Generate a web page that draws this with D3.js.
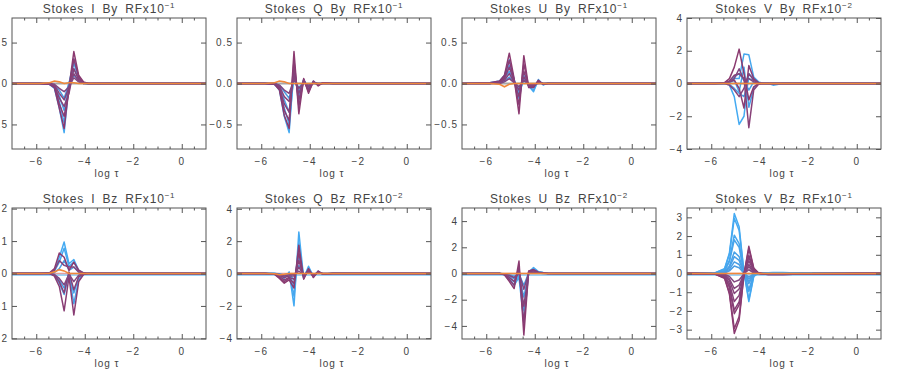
<!DOCTYPE html>
<html>
<head>
<meta charset="utf-8">
<script src="https://cdnjs.cloudflare.com/ajax/libs/d3/7.8.5/d3.min.js"></script>
<style>
  body { margin: 0; background: #fff; }
  svg { display: block; font-family: "Liberation Sans", Arial, sans-serif; }
  .title { font-size: 12px; fill: #444; letter-spacing: 0.8px; word-spacing: 3px; }
  .axisText { font-size: 10px; fill: #444; letter-spacing: 1px; }
  .tick text { font-size: 10px; fill: #444; letter-spacing: 1px; }
  .tick line { stroke: #555; }
</style>
</head>
<body>
<div class="chart"></div>
<script>
// Response functions vs log tau, 8 panels

// shared log tau grid (vertex positions of every curve)
var logTau = [-7, -5.85, -5.45, -5.25, -5.05, -4.85, -4.65, -4.45, -4.25, -4.05, -3.85, -3.65, -3.45, -3.05, -2.2, 1];

// panel titles
var titles = ["Stokes I By RFx10", "Stokes Q By RFx10", "Stokes U By RFx10", "Stokes V By RFx10",
              "Stokes I Bz RFx10", "Stokes Q Bz RFx10", "Stokes U Bz RFx10", "Stokes V Bz RFx10"];
var exponents = ["-1", "-1", "-1", "-2", "-1", "-2", "-2", "-1"];

// y ranges and ticks
var yLimits = [0.8, 0.8, 0.8, 4, 2.02, 4.05, 5, 3.5];
var yTicks = [
  [-0.5, 0, 0.5], [-0.5, 0, 0.5], [-0.5, 0, 0.5], [-4, -2, 0, 2, 4],
  [-2, -1, 0, 1, 2], [-4, -2, 0, 2, 4], [-4, -2, 0, 2, 4], [-3, -2, -1, 0, 1, 2, 3]
];
var xTicks = [-6, -4, -2, 0];
var xMinorTicks = [-6.5, -5.5, -5, -4.5, -3.5, -3, -2.5, -1.5, -1, -0.5, 0.5];

// Stokes I By
var iByBlue = [
  [0, 0, -0.01, -0.06, -0.3, -0.6, -0.02, 0.3, 0.08, 0.01, -0.01, -0.01, -0.01, 0, 0, 0],
  [0, 0, -0.01, -0.05, -0.22, -0.48, 0.0, 0.25, 0.06, 0.01, -0.01, -0.01, 0, 0, 0, 0],
  [0, 0, 0, -0.04, -0.15, -0.33, 0.01, 0.18, 0.05, 0.01, -0.01, 0, 0, 0, 0, 0],
  [0, 0, 0, -0.03, -0.08, -0.18, 0.0, 0.1, 0.03, 0, 0, 0, 0, 0, 0, 0]
];
var iByPurple = [
  [0, 0, -0.01, -0.05, -0.3, -0.55, -0.05, 0.39, 0.1, 0.02, 0, 0, 0, 0, 0, 0],
  [0, 0, -0.01, -0.04, -0.25, -0.4, -0.1, 0.3, 0.08, 0.01, 0, 0, 0, 0, 0, 0],
  [0, 0, 0, -0.03, -0.18, -0.28, -0.12, 0.18, 0.05, 0.01, 0, 0, 0, 0, 0, 0],
  [0, 0, 0, -0.02, -0.12, -0.2, -0.05, 0.12, 0.03, 0, 0, 0, 0, 0, 0, 0],
  [0, 0, 0, -0.01, -0.06, -0.1, -0.04, 0.07, 0.02, 0, 0, 0, 0, 0, 0, 0]
];
var iByOrange = [0, 0, 0.01, 0.03, 0.02, 0, 0.01, 0.01, 0, 0, 0, 0, 0, 0, 0, 0];

// Stokes Q By
var qByBlue = [
  [0, 0, -0.01, -0.08, -0.4, -0.6, 0.2, -0.2, 0.05, -0.08, 0.03, -0.02, 0.01, 0, 0, 0],
  [0, 0, -0.01, -0.06, -0.3, -0.5, 0.12, -0.15, 0.04, -0.06, 0.02, -0.01, 0.01, 0, 0, 0],
  [0, 0, 0, -0.04, -0.2, -0.35, 0.08, -0.1, 0.03, -0.04, 0.01, 0, 0, 0, 0, 0],
  [0, 0, 0, -0.02, -0.1, -0.18, 0.04, -0.05, 0.02, -0.02, 0, 0, 0, 0, 0, 0]
];
var qByPurple = [
  [0, 0, -0.01, -0.08, -0.39, -0.55, 0.39, -0.37, 0.06, -0.12, 0.03, -0.03, 0.01, 0, 0, 0],
  [0, 0, -0.01, -0.06, -0.33, -0.45, 0.28, -0.28, 0.05, -0.1, 0.02, -0.02, 0.01, 0, 0, 0],
  [0, 0, 0, -0.05, -0.25, -0.35, 0.18, -0.2, 0.04, -0.07, 0.02, -0.01, 0, 0, 0, 0],
  [0, 0, 0, -0.03, -0.16, -0.22, 0.1, -0.12, 0.02, -0.04, 0.01, 0, 0, 0, 0, 0],
  [0, 0, 0, -0.02, -0.08, -0.12, 0.05, -0.06, 0.01, -0.02, 0, 0, 0, 0, 0, 0]
];
var qByOrange = [0, 0, 0.01, 0.03, 0.02, 0, 0, 0, 0, 0, 0, 0, 0, 0, 0, 0];

// Stokes U By
var uByBlue = [
  [0, 0.01, 0.03, 0.1, 0.29, 0.05, -0.18, 0.1, -0.03, -0.1, 0.05, -0.02, 0.01, 0, 0, 0],
  [0, 0.01, 0.02, 0.08, 0.22, 0.04, -0.14, 0.07, -0.03, -0.08, 0.04, -0.01, 0.01, 0, 0, 0],
  [0, 0, 0.02, 0.06, 0.15, 0.03, -0.1, 0.05, -0.02, -0.05, 0.03, -0.01, 0, 0, 0, 0],
  [0, 0, 0.01, 0.03, 0.08, 0.02, -0.05, 0.03, -0.01, -0.03, 0.01, 0, 0, 0, 0, 0]
];
var uByPurple = [
  [0, 0.01, 0.03, 0.1, 0.37, 0.06, -0.37, 0.34, -0.05, -0.05, 0.04, -0.01, 0, 0, 0, 0],
  [0, 0, 0.02, 0.08, 0.28, 0.04, -0.26, 0.24, -0.04, -0.04, 0.03, -0.01, 0, 0, 0, 0],
  [0, 0, 0.02, 0.06, 0.2, 0.03, -0.16, 0.15, -0.03, -0.03, 0.02, 0, 0, 0, 0, 0],
  [0, 0, 0.01, 0.04, 0.12, 0.02, -0.08, 0.08, -0.02, -0.02, 0.01, 0, 0, 0, 0, 0],
  [0, 0, 0, 0.02, 0.06, 0.01, -0.04, 0.04, -0.01, -0.01, 0, 0, 0, 0, 0, 0]
];
var uByOrange = [0, 0, -0.01, -0.04, -0.01, 0, 0, 0, 0, 0, 0, 0, 0, 0, 0, 0];

// Stokes V By
var vByBlue = [
  [0, 0, 0, -0.1, -0.8, -2.5, -2.0, 0.6, 0.3, 0.05, 0, 0, -0.1, 0, 0, 0],
  [0, 0, 0, 0.1, 0.3, 0.3, 1.8, 1.75, 0.4, 0.1, 0, 0, -0.05, 0, 0, 0],
  [0, 0, 0, 0.05, 0.2, -0.5, 1.0, -1.45, -0.3, 0, 0, 0, 0, 0, 0, 0],
  [0, 0, 0, 0.1, 0.4, 0.6, 0.2, -0.4, 0.1, 0, 0, 0, 0, 0, 0, 0],
  [0, 0, 0, -0.05, -0.3, -0.6, -0.8, 0.3, 0.2, 0, 0, 0, 0, 0, 0, 0]
];
var vByPurple = [
  [0, 0, 0.05, 0.3, 1.0, 2.1, 0.6, -1.0, -0.2, 0, 0, 0, 0, 0, 0, 0],
  [0, 0, 0.02, 0.1, 0.2, -0.3, -1.5, 1.1, 0.3, 0.05, 0, 0, 0, 0, 0, 0],
  [0, 0, 0.02, 0.15, 0.5, 0.6, 0.3, -2.7, -0.4, -0.05, 0, 0, 0, 0, 0, 0],
  [0, 0, 0, -0.1, -0.4, -0.8, -0.3, 0.6, 0.2, 0, 0, 0, 0, 0, 0, 0],
  [0, 0, 0, 0.1, 0.3, 0.9, 0.2, 0.3, 0.1, 0, 0, 0, 0, 0, 0, 0]
];
var vByOrange = [0, 0, 0, 0, 0, 0, 0, 0, 0, 0, 0, 0, 0, 0, 0, 0];

// Stokes I Bz
var iBzBlue = [
  [0, 0, 0.02, 0.1, 0.5, 0.97, 0.3, 0.43, 0.1, 0.02, 0, 0.02, 0, 0, 0, 0],
  [0, 0, 0.01, 0.07, 0.35, 0.78, 0.22, 0.35, 0.07, 0.01, 0, 0.01, 0, 0, 0, 0],
  [0, 0, 0, -0.05, -0.3, -0.65, 0.0, -0.93, -0.2, -0.02, 0, 0, 0, 0, 0, 0],
  [0, 0, 0, -0.03, -0.2, -0.45, -0.05, -0.6, -0.12, -0.01, 0, 0, 0, 0, 0, 0],
  [0, 0, 0, 0.03, 0.15, 0.4, 0.1, 0.2, 0.04, 0, 0, 0, 0, 0, 0, 0]
];
var iBzPurple = [
  [0, 0, 0.02, 0.15, 0.63, 0.5, 0.1, 0.35, 0.1, 0.02, 0, 0, 0, 0, 0, 0],
  [0, 0, 0, -0.08, -0.4, -1.15, -0.1, -1.28, -0.25, -0.03, 0, 0, 0, 0, 0, 0],
  [0, 0, 0, -0.05, -0.25, -0.6, 0.05, -0.5, -0.1, -0.01, 0, 0, 0, 0, 0, 0],
  [0, 0, 0.01, 0.1, 0.4, 0.25, 0.2, 0.2, 0.05, 0, 0, 0, 0, 0, 0, 0],
  [0, 0, 0, -0.03, -0.15, -0.35, -0.02, -0.25, -0.05, 0, 0, 0, 0, 0, 0, 0]
];
var iBzOrange = [0, 0, 0.01, 0.05, 0.12, 0.08, 0, 0, 0, 0, 0, 0, 0, 0, 0, 0];

// Stokes Q Bz
var qBzBlue = [
  [0, 0, 0, -0.05, -0.3, 0.1, -2.0, 2.56, -0.3, 0.45, -0.2, 0.15, -0.05, 0.02, 0, 0],
  [0, 0, 0, -0.04, -0.25, 0.05, -1.4, 1.9, -0.25, 0.35, -0.15, 0.1, -0.04, 0.01, 0, 0],
  [0, 0, 0, -0.03, -0.2, 0.02, -0.8, 1.1, -0.15, 0.25, -0.1, 0.08, -0.03, 0, 0, 0],
  [0, 0, 0, -0.02, -0.1, 0, -0.4, 0.5, -0.08, 0.12, -0.05, 0.04, 0, 0, 0, 0]
];
var qBzPurple = [
  [0, 0, -0.05, -0.3, -0.6, -0.4, -0.9, 1.75, -0.35, 0.3, -0.25, 0.15, -0.05, 0, 0, 0],
  [0, 0, -0.04, -0.25, -0.5, -0.3, -0.6, 1.3, -0.3, 0.25, -0.2, 0.12, -0.04, 0, 0, 0],
  [0, 0, -0.03, -0.18, -0.4, -0.25, -0.35, 0.8, -0.2, 0.18, -0.15, 0.08, -0.03, 0, 0, 0],
  [0, 0, -0.02, -0.12, -0.25, -0.15, -0.15, 0.4, -0.1, 0.1, -0.08, 0.05, 0, 0, 0, 0],
  [0, 0, -0.01, -0.06, -0.15, -0.08, -0.05, 0.15, -0.05, 0.05, -0.03, 0.02, 0, 0, 0, 0]
];
var qBzOrange = [0, 0, -0.02, -0.08, -0.05, 0, 0, 0, 0, 0, 0, 0, 0, 0, 0, 0];

// Stokes U Bz
var uBzBlue = [
  [0, 0, 0, -0.1, -0.5, -0.9, -0.3, -3.7, 0.1, 0.45, 0.15, 0.08, 0.02, 0, 0, 0],
  [0, 0, 0, -0.07, -0.35, -0.65, -0.2, -2.8, 0.08, 0.35, 0.1, 0.05, 0.01, 0, 0, 0],
  [0, 0, 0, -0.04, -0.2, -0.4, -0.1, -1.8, 0.05, 0.25, 0.06, 0.03, 0, 0, 0, 0],
  [0, 0, 0, -0.02, -0.1, -0.2, -0.05, -0.9, 0.03, 0.12, 0.03, 0.01, 0, 0, 0, 0]
];
var uBzPurple = [
  [0, 0, 0, -0.1, -0.6, -1.15, 0.95, -4.7, 0.2, 0.3, 0.1, 0.05, 0, 0, 0, 0],
  [0, 0, 0, -0.08, -0.45, -0.9, 0.5, -3.8, 0.15, 0.25, 0.08, 0.04, 0, 0, 0, 0],
  [0, 0, 0, -0.05, -0.3, -0.6, 0.2, -2.5, 0.1, 0.2, 0.05, 0.02, 0, 0, 0, 0],
  [0, 0, 0, -0.03, -0.15, -0.3, 0.05, -1.2, 0.05, 0.1, 0.03, 0, 0, 0, 0, 0]
];
var uBzOrange = [0, 0, 0, 0, 0, 0, 0, 0, 0, 0, 0, 0, 0, 0, 0, 0];

// Stokes V Bz
var vBzBlue = [
  [0, 0.03, 0.26, 1.1, 3.2, 2.5, 0.06, -1.5, -0.16, 0.03, 0.04, 0.04, 0.05, 0.05, 0.02, 0],
  [0, 0.03, 0.24, 1.03, 2.95, 2.3, 0.06, -1.38, -0.15, 0.03, 0.03, 0.04, 0.04, 0.04, 0.02, 0],
  [0, 0.02, 0.16, 0.72, 2.05, 1.6, 0.04, -0.96, -0.1, 0.02, 0.02, 0.03, 0.03, 0.03, 0.01, 0],
  [0, 0.02, 0.14, 0.63, 1.8, 1.4, 0.04, -0.85, -0.09, 0.02, 0.02, 0.02, 0.03, 0.03, 0.01, 0],
  [0, 0.01, 0.09, 0.4, 1.15, 0.9, 0.02, -0.54, -0.06, 0.01, 0.01, 0.02, 0.02, 0.02, 0.01, 0],
  [0, 0.01, 0.07, 0.32, 0.9, 0.7, 0.02, -0.42, -0.05, 0.01, 0.01, 0.01, 0.01, 0.01, 0, 0],
  [0, 0.01, 0.05, 0.22, 0.62, 0.48, 0.01, -0.29, -0.03, 0, 0.01, 0.01, 0.01, 0.01, 0, 0],
  [0, 0, 0.03, 0.14, 0.4, 0.31, 0.01, -0.19, -0.02, 0, 0, 0.01, 0.01, 0.01, 0, 0]
];
var vBzPurple = [
  [0, -0.03, -0.26, -1.1, -3.2, -2.5, -0.05, 1.45, 0.3, 0.02, -0.03, -0.05, -0.06, -0.06, -0.03, 0],
  [0, -0.03, -0.24, -1.03, -2.95, -2.3, -0.05, 1.33, 0.27, 0.02, -0.03, -0.05, -0.05, -0.05, -0.03, 0],
  [0, -0.02, -0.17, -0.75, -2.15, -1.68, -0.04, 0.97, 0.2, 0.01, -0.02, -0.03, -0.04, -0.04, -0.02, 0],
  [0, -0.02, -0.16, -0.68, -1.95, -1.52, -0.03, 0.88, 0.18, 0.01, -0.02, -0.03, -0.04, -0.04, -0.02, 0],
  [0, -0.02, -0.12, -0.53, -1.5, -1.17, -0.03, 0.68, 0.14, 0.01, -0.01, -0.02, -0.03, -0.03, -0.01, 0],
  [0, -0.01, -0.09, -0.37, -1.07, -0.83, -0.02, 0.48, 0.1, 0.01, -0.01, -0.02, -0.02, -0.02, -0.01, 0],
  [0, -0.01, -0.06, -0.28, -0.8, -0.62, -0.02, 0.36, 0.07, 0, -0.01, -0.01, -0.01, -0.01, -0.01, 0],
  [0, 0, -0.04, -0.16, -0.45, -0.35, -0.01, 0.2, 0.04, 0, 0, -0.01, -0.01, -0.01, 0, 0]
];
var vBzOrange = [0, 0, 0, 0, 0, 0, 0, 0, 0, 0, 0, 0, 0, 0, 0, 0];

var blueSets = [iByBlue, qByBlue, uByBlue, vByBlue, iBzBlue, qBzBlue, uBzBlue, vBzBlue];
var purpleSets = [iByPurple, qByPurple, uByPurple, vByPurple, iBzPurple, qBzPurple, uBzPurple, vBzPurple];
var orangeSets = [iByOrange, qByOrange, uByOrange, vByOrange, iBzOrange, qBzOrange, uBzOrange, vBzOrange];

// layout
var svgWidth = 899, svgHeight = 378;
var panelWidth = 194, panelHeight = 131;
var panelLeft = [12, 237, 462, 687];
var panelTop = [18, 208];

var svg = d3.select(".chart")
  .append("svg")
  .attr("width", svgWidth)
  .attr("height", svgHeight);

var blueToPurple = d3.interpolateRgb("#44aaf2", "#8b3a70");
var fmtDec = d3.format(".1f");
var fmtInt = d3.format("d");
var x = d3.scaleLinear().domain([-7, 1]).range([0, panelWidth]);

titles.forEach(function(title, p) {
  var col = p % 4, row = Math.floor(p / 4);
  var g = svg.append("g")
    .attr("transform", `translate(${panelLeft[col]}, ${panelTop[row]})`);

  var y = d3.scaleLinear().domain([-yLimits[p], yLimits[p]]).range([panelHeight, 0]);

  g.append("clipPath").attr("id", "clip" + p)
    .append("rect").attr("width", panelWidth).attr("height", panelHeight);

  var plot = g.append("g").attr("clip-path", `url(#clip${p})`);

  var line = d3.line()
    .x((d, i) => x(logTau[i]))
    .y(d => y(d));

  // zero line(s)
  var flat = logTau.map(() => 0);
  if (row === 0) {
    plot.append("path").attr("d", line(flat))
      .attr("fill", "none").attr("stroke", "#a8a8a8").attr("stroke-width", 2);
  } else {
    plot.append("path").attr("d", line(flat))
      .attr("transform", "translate(0, 1.6)")
      .attr("fill", "none").attr("stroke", "#7cc6f4").attr("stroke-width", 1.5);
    plot.append("path").attr("d", line(flat))
      .attr("fill", "none").attr("stroke", "#e2a0a0").attr("stroke-width", 1.5);
  }

  // blue family
  var blues = blueSets[p];
  plot.selectAll(".blue")
    .data(blues)
    .enter()
    .append("path")
    .attr("class", "blue")
    .attr("d", d => line(d))
    .attr("fill", "none")
    .attr("stroke", (d, i) => blueToPurple(0.12 * i / Math.max(1, blues.length - 1)))
    .attr("stroke-width", 1.5)
    .attr("stroke-linejoin", "round");

  // purple family
  var purples = purpleSets[p];
  plot.selectAll(".purple")
    .data(purples)
    .enter()
    .append("path")
    .attr("class", "purple")
    .attr("d", d => line(d))
    .attr("fill", "none")
    .attr("stroke", (d, i) => blueToPurple(1 - 0.12 * i / Math.max(1, purples.length - 1)))
    .attr("stroke-width", 1.5)
    .attr("stroke-linejoin", "round");

  // orange curve on top
  plot.append("path")
    .attr("d", line(orangeSets[p]))
    .attr("fill", "none")
    .attr("stroke", "#f0883a")
    .attr("stroke-width", 1.6);

  // axes, ticks pointing inward
  var fmt = yLimits[p] < 1 ? fmtDec : fmtInt;
  g.append("g").attr("transform", `translate(0, ${panelHeight})`)
    .call(d3.axisBottom(x).tickValues(xTicks).tickSize(-5).tickFormat(""));
  g.append("g").attr("transform", `translate(0, ${panelHeight})`)
    .call(d3.axisBottom(x).tickValues(xMinorTicks).tickSize(-2.5).tickFormat(""));
  g.append("g")
    .call(d3.axisTop(x).tickValues(xTicks).tickSize(-5).tickFormat(""));
  g.append("g")
    .call(d3.axisTop(x).tickValues(xMinorTicks).tickSize(-2.5).tickFormat(""));
  g.append("g")
    .call(d3.axisLeft(y).tickValues(yTicks[p]).tickSize(-5).tickPadding(4).tickFormat(fmt));
  g.append("g").attr("transform", `translate(${panelWidth}, 0)`)
    .call(d3.axisRight(y).tickValues(yTicks[p]).tickSize(-5).tickFormat(""));
  g.selectAll(".domain").remove();

  // frame
  g.append("rect")
    .attr("width", panelWidth).attr("height", panelHeight)
    .attr("fill", "none").attr("stroke", "#555").attr("stroke-width", 1);

  // title with exponent
  var t = g.append("text")
    .attr("class", "title")
    .attr("x", panelWidth / 2)
    .attr("y", -5)
    .attr("text-anchor", "middle");
  t.append("tspan").text(title);
  t.append("tspan").attr("dy", -5).attr("font-size", "8px").text(exponents[p].replace("-", "\u2212"));

  // x tick labels
  g.selectAll(".xlab")
    .data(xTicks)
    .enter()
    .append("text")
    .attr("class", "axisText xlab")
    .attr("x", d => x(d))
    .attr("y", panelHeight + 16)
    .attr("text-anchor", "middle")
    .text(d => fmtInt(d));

  // x label
  g.append("text")
    .attr("class", "axisText")
    .attr("x", panelWidth / 2 - 2)
    .attr("y", panelHeight + 28)
    .attr("text-anchor", "middle")
    .text("log \u03c4");
});
</script>
</body>
</html>
